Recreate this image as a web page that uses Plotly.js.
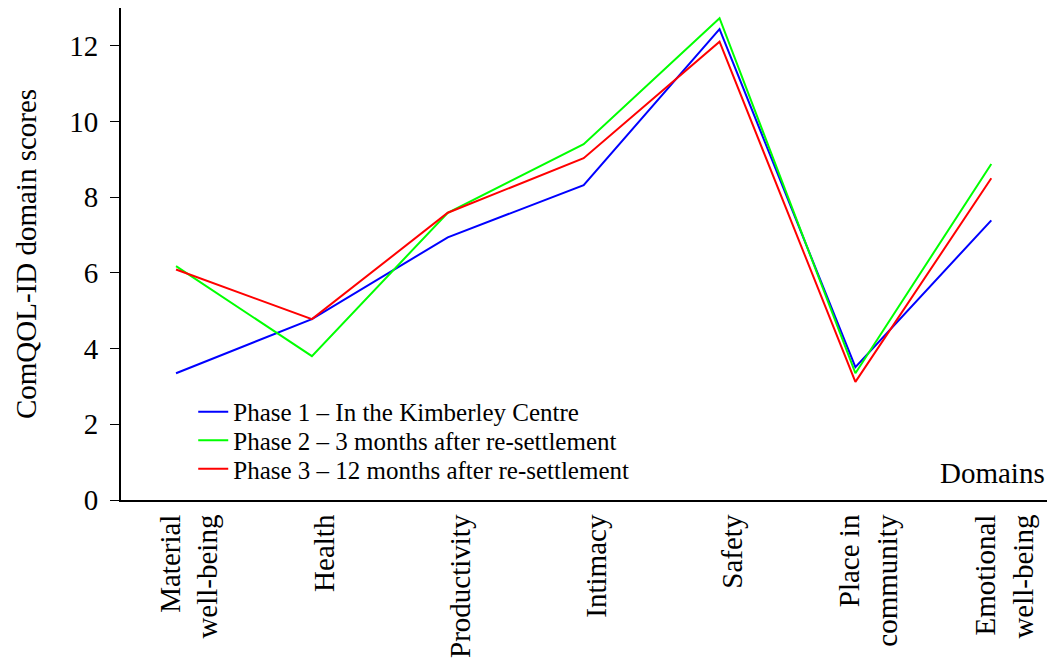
<!DOCTYPE html>
<html>
<head>
<meta charset="utf-8">
<script src="https://cdn.plot.ly/plotly-3.0.1.min.js"></script>
<style>html,body{margin:0;padding:0;background:#fff;}#chart{width:1047px;height:662px;}</style>
</head>
<body>
<div id="chart"></div>
<script>
const categories = ["Material<br>well-being", "Health", "Productivity", "Intimacy", "Safety", "Place in<br>community", "Emotional<br>well-being"];
const phase1 = [3.35, 4.78, 6.94, 8.32, 12.44, 3.51, 7.39];
const phase2 = [6.18, 3.80, 7.59, 9.40, 12.73, 3.35, 8.88];
const phase3 = [6.09, 4.78, 7.59, 9.03, 12.11, 3.12, 8.50];
const seriesNames = ["Phase 1 – In the Kimberley Centre", "Phase 2 – 3 months after re-settlement", "Phase 3 – 12 months after re-settlement"];
const yTicks = [0, 2, 4, 6, 8, 10, 12];

const FONT = "Liberation Serif";
const colors = ["#0000ff", "#00ff00", "#ff0000"];
const series = [phase1, phase2, phase3];
const legendIds = ["legend", "legend2", "legend3"];

const traces = series.map((vals, k) => ({
  type: "scatter", mode: "lines",
  x: categories, y: vals, name: seriesNames[k],
  line: {color: colors[k], width: 2},
  legend: legendIds[k],
  hoverinfo: "skip"
}));

const xmin = -0.405, xmax = 6.41;
const boundaries = categories.map((_, i) => i + xmin);

const legendY = [0.179, 0.121, 0.063];
function legendCfg(i) {
  return {
    x: 0.078, xanchor: "left", y: legendY[i], yanchor: "middle",
    bgcolor: "rgba(0,0,0,0)", borderwidth: 0,
    font: {family: FONT, size: 25, color: "#000"}
  };
}

const layout = {
  width: 1047, height: 662,
  margin: {l: 121, r: 0, t: 8, b: 162},
  paper_bgcolor: "#fff", plot_bgcolor: "#fff",
  font: {family: FONT, color: "#000"},
  showlegend: true,
  legend: legendCfg(0), legend2: legendCfg(1), legend3: legendCfg(2),
  xaxis: {
    type: "category", range: [xmin, xmax], fixedrange: true,
    showline: true, linecolor: "#000", linewidth: 2,
    showgrid: false, zeroline: false,
    ticks: "", tickangle: -90, ticklabelstandoff: 1, ticklabelshift: 13,
    tickfont: {family: FONT, size: 29, color: "#000"}
  },
  xaxis2: {
    overlaying: "x", anchor: "y", side: "bottom", range: [xmin, xmax],
    tickmode: "array", tickvals: boundaries, showticklabels: false,
    ticks: "outside", ticklen: 10, tickwidth: 1, tickcolor: "#000",
    showline: false, showgrid: false, zeroline: false
  },
  yaxis: {
    range: [0, 13], tickmode: "array", tickvals: yTicks,
    showline: true, linecolor: "#000", linewidth: 2,
    ticks: "outside", ticklen: 9, tickwidth: 1, tickcolor: "#000",
    ticklabelstandoff: 6,
    showgrid: false, zeroline: false,
    tickfont: {family: FONT, size: 29, color: "#000"},
    title: {text: "ComQOL-ID domain scores", font: {family: FONT, size: 29, color: "#000"}, standoff: 24}
  },
  annotations: [{
    text: "Domains", xref: "paper", yref: "paper", x: 1, y: 0.018,
    xanchor: "right", yanchor: "bottom", showarrow: false,
    font: {family: FONT, size: 29, color: "#000"}
  }]
};

Plotly.newPlot("chart", traces, layout, {displayModeBar: false, staticPlot: true});
</script>
</body>
</html>
